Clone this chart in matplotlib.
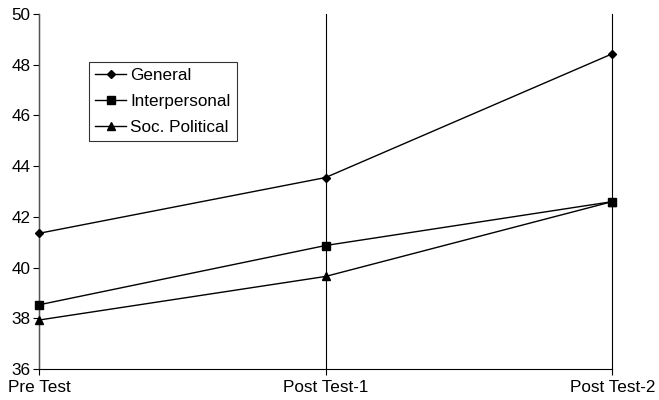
import matplotlib
matplotlib.use("Agg")
import matplotlib.pyplot as plt

categories = ["Pre Test", "Post Test-1", "Post Test-2"]
general = [41.35, 43.55, 48.43]
interpersonal = [38.53, 40.87, 42.6]
soc_political = [37.93, 39.65, 42.6]
yticks = [36, 38, 40, 42, 44, 46, 48, 50]

plt.rcParams['font.family'] = ['Liberation Sans', 'DejaVu Sans']
fig = plt.figure(figsize=(6.59, 4.0), dpi=100)
ax = fig.add_axes([0.059, 0.0775, 0.87, 0.8875])

x = list(range(len(categories)))
ax.plot(x, general, color='black', lw=1, marker='D', ms=4.5, label='General', clip_on=False, zorder=3)
ax.plot(x, interpersonal, color='black', lw=1, marker='s', ms=6, label='Interpersonal', clip_on=False, zorder=3)
ax.plot(x, soc_political, color='black', lw=1, marker='^', ms=6, label='Soc. Political', clip_on=False, zorder=3)

ax.set_xlim(0, len(categories) - 1)
ax.set_ylim(36, 50)
ax.set_yticks(yticks)
ax.set_xticks(x)
ax.set_xticklabels(categories)
ax.tick_params(axis='both', labelsize=12.3, direction='out', length=4, width=0.8, color='black')
ax.tick_params(axis='x', pad=4)
ax.tick_params(axis='y', pad=2)
ax.grid(axis='x', color='black', lw=0.8)
for gl in ax.get_xgridlines():
    gl.set_clip_on(False)
ax.set_axisbelow(True)
for s in ['top', 'right']:
    ax.spines[s].set_visible(False)
ax.spines['left'].set_color('#555555')
ax.spines['bottom'].set_color('black')
ax.spines['left'].set_linewidth(1)
ax.spines['bottom'].set_linewidth(0.8)

leg = ax.legend(loc='upper left', bbox_to_anchor=(0.087, 0.865), frameon=True,
                fancybox=False, edgecolor='black', fontsize=12.3, handlelength=1.8,
                handletextpad=0.25, borderpad=0.38, labelspacing=0.62, borderaxespad=0)
leg.get_frame().set_linewidth(0.8)

fig.savefig("out.png", dpi=100)
